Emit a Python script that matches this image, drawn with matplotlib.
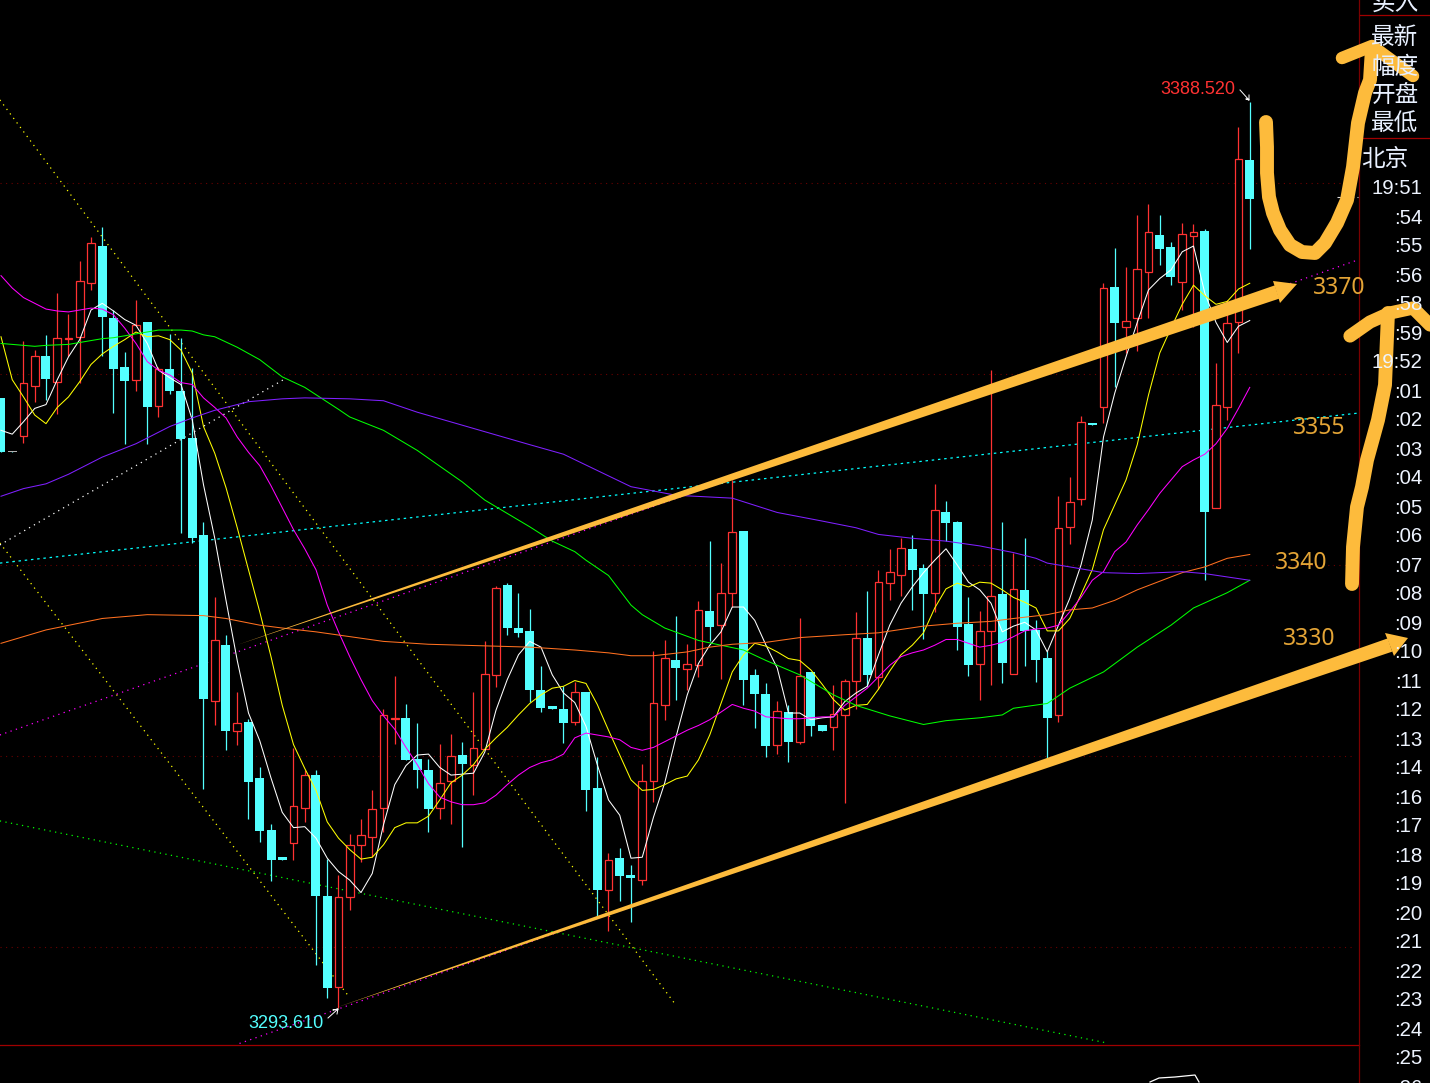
import matplotlib
matplotlib.use('Agg')
import matplotlib.pyplot as plt
import numpy as np
from matplotlib.patches import Polygon

# candles
opens = [3357.5,3351.9,3353.5,3358.7,3361.9,3359.2,3363.7,3363.9,3369.5,3373.4,3365.9,3360.7,3359.4,3365.4,3356.6,3360.5,
         3358.2,3353.3,3343.1,3325.8,3331.6,3322.6,3323.6,3317.7,3312.3,3309.4,3310.9,3314.6,3318.0,3305.3,3295.8,3305.2,
         3310.7,3311.5,3314.6,3323.9,3324.0,3319.7,3318.5,3314.6,3317.4,3320.1,3319.1,3320.7,3328.5,3337.9,3333.4,3333.1,
         3326.9,3325.2,3324.9,3323.6,3326.7,3316.6,3306.0,3309.3,3307.5,3307.0,3317.4,3325.3,3330.1,3329.1,3329.5,3335.2,
         3333.7,3337.1,3343.6,3328.5,3326.5,3321.2,3324.6,3321.5,3328.8,3323.2,3323.0,3324.3,3327.9,3332.4,3328.3,3338.1,
         3339.0,3341.7,3339.7,3337.1,3345.5,3344.5,3333.8,3329.6,3333.1,3337.0,3328.6,3337.4,3333.2,3330.3,3324.3,3344.0,
         3346.9,3354.9,3356.5,3369.1,3364.9,3365.9,3370.7,3374.6,3373.3,3369.6,3374.5,3375.0,3346.0,3356.5,3365.4,3382.4]
closes = [3351.8,3351.8,3359.1,3361.9,3359.5,3363.8,3363.8,3369.7,3373.7,3366.0,3360.5,3359.3,3365.1,3356.5,3360.5,3358.2,
          3353.2,3342.8,3326.0,3332.1,3322.6,3323.5,3317.3,3312.1,3309.1,3309.1,3314.8,3318.0,3305.3,3295.7,3305.2,3310.7,
          3311.7,3314.4,3324.3,3324.0,3319.6,3318.5,3314.4,3317.2,3320.0,3319.2,3320.8,3328.6,3337.6,3333.4,3332.9,3326.9,
          3325.0,3324.9,3323.5,3326.7,3316.4,3306.0,3309.1,3307.4,3307.2,3317.4,3325.5,3330.3,3329.2,3329.6,3335.3,3333.5,
          3337.1,3343.5,3328.0,3326.5,3321.0,3324.7,3321.5,3328.4,3323.1,3322.6,3324.4,3327.9,3332.4,3328.5,3338.2,3339.3,
          3341.8,3339.5,3337.0,3345.8,3344.4,3333.5,3329.5,3333.1,3336.8,3329.7,3337.5,3333.1,3330.1,3324.0,3343.9,3346.6,
          3355.0,3354.7,3369.0,3365.3,3365.6,3371.0,3374.9,3373.1,3370.2,3374.7,3374.9,3345.5,3356.8,3365.3,3382.5,3378.3]
highs = [3357.5,3351.9,3363.5,3362.5,3364.1,3368.5,3366.3,3371.8,3374.3,3375.4,3366.7,3362.3,3367.8,3365.4,3360.7,3364.2,
         3363.8,3360.6,3344.5,3336.6,3332.7,3326.7,3323.9,3318.8,3312.9,3309.4,3320.8,3318.5,3318.5,3309.2,3307.5,3311.8,
         3313.4,3316.4,3324.9,3328.4,3325.4,3323.5,3319.7,3321.3,3322.3,3321.5,3326.7,3332.0,3337.8,3338.1,3337.1,3335.4,
         3329.4,3325.2,3327.3,3327.7,3326.7,3319.9,3309.8,3310.4,3308.6,3319.2,3331.0,3332.1,3334.7,3331.7,3336.2,3342.5,
         3340.2,3348.9,3343.6,3329.1,3327.6,3325.8,3325.3,3334.5,3328.8,3323.2,3327.4,3328.1,3335.1,3337.3,3339.5,3341.7,
         3342.8,3343.1,3340.1,3348.5,3346.7,3344.6,3336.6,3335.2,3360.4,3344.5,3341.3,3342.8,3334.2,3331.0,3347.2,3349.2,
         3355.6,3354.9,3369.5,3373.2,3371.2,3376.7,3377.8,3376.6,3373.8,3375.8,3375.7,3375.2,3361.2,3367.8,3385.9,3388.52]
lows = [3351.8,3351.8,3352.8,3357.1,3357.3,3355.8,3361.9,3359.1,3368.8,3361.9,3355.9,3352.7,3358.2,3352.7,3355.5,3357.9,
        3343.4,3342.3,3316.5,3323.2,3320.6,3321.2,3313.4,3311.0,3306.9,3309.1,3309.1,3313.1,3298.1,3294.7,3293.61,3303.9,
        3308.9,3309.4,3312.0,3321.3,3319.6,3316.6,3312.0,3313.4,3312.9,3310.5,3315.9,3320.7,3327.2,3332.7,3332.5,3325.7,
        3324.6,3324.9,3321.4,3323.2,3314.2,3303.0,3301.7,3304.8,3302.6,3306.5,3315.2,3323.8,3325.9,3326.9,3328.3,3332.0,
        3328.1,3335.6,3325.3,3322.9,3319.9,3320.2,3319.4,3321.3,3322.1,3322.6,3320.6,3315.1,3324.9,3327.3,3327.0,3336.3,
        3336.8,3335.3,3332.2,3335.1,3342.5,3331.1,3328.4,3325.9,3327.4,3327.6,3328.6,3329.4,3327.7,3319.6,3323.6,3342.2,
        3346.3,3354.7,3354.9,3358.6,3362.2,3362.4,3365.9,3371.4,3369.3,3366.7,3364.9,3338.4,3346.0,3355.2,3362.2,3373.1]
grey_candles = [1]

# moving averages, one value per candle
ma_white = [3354.1,3353.7,3355.0,3356.4,3356.8,3359.4,3361.8,3363.6,3366.7,3367.4,3366.6,3365.7,3365.1,3363.2,3360.4,3359.6,
            3358.9,3355.2,3348.4,3342.8,3336.3,3330.0,3324.5,3321.6,3317.7,3314.1,3312.5,3312.6,3311.4,3309.3,3307.9,3307.0,
            3305.7,3307.7,3312.8,3317.0,3319.0,3320.1,3320.2,3318.8,3318.0,3318.1,3318.2,3320.4,3324.8,3328.0,3330.6,3332.0,
            3331.4,3328.5,3326.6,3325.6,3323.1,3319.1,3315.4,3313.8,3309.3,3309.4,3313.6,3317.2,3322.0,3326.4,3329.7,3331.6,
            3333.0,3335.6,3335.6,3334.2,3331.6,3329.2,3324.5,3324.5,3323.8,3324.0,3324.1,3325.7,3326.6,3327.3,3330.6,3333.7,
            3336.0,3337.7,3339.2,3340.5,3341.7,3340.0,3338.2,3337.4,3336.0,3333.0,3333.6,3334.0,3333.2,3330.9,3333.7,3336.5,
            3340.0,3344.7,3353.4,3358.0,3361.8,3365.4,3368.8,3370.0,3370.9,3372.8,3373.4,3368.5,3365.4,3363.3,3365.0,3365.6]
ma_yellow = [3363.9,3359.4,3357.6,3355.7,3354.8,3356.5,3357.6,3359.2,3361.0,3362.1,3362.9,3363.6,3364.4,3363.9,3364.0,3363.6,
             3362.5,3360.1,3354.5,3351.7,3348.1,3343.9,3339.5,3335.1,3330.4,3325.3,3321.2,3318.7,3316.4,3313.1,3311.4,3310.2,
             3309.2,3309.4,3310.7,3312.5,3313.0,3313.0,3313.7,3315.4,3317.2,3318.0,3319.1,3320.7,3321.9,3323.0,3324.3,3325.5,
             3326.4,3327.1,3327.3,3327.9,3327.6,3325.4,3322.7,3320.1,3317.5,3316.4,3316.5,3317.0,3317.6,3317.9,3319.6,3322.2,
             3325.5,3328.8,3330.6,3331.8,3331.5,3330.9,3330.2,3330.0,3329.0,3327.5,3325.9,3324.8,3325.3,3325.4,3327.0,3328.9,
             3330.6,3331.6,3332.9,3335.5,3337.5,3338.1,3337.7,3338.2,3338.1,3337.4,3336.6,3336.1,3335.5,3333.1,3333.1,3334.4,
             3336.9,3339.5,3343.7,3346.3,3348.9,3352.6,3357.8,3362.2,3364.8,3367.3,3369.3,3368.2,3367.3,3367.6,3368.9,3369.5]
ma_magenta = [3370.3,3369.0,3368.0,3367.4,3366.8,3366.6,3366.5,3366.7,3366.9,3366.8,3366.2,3364.8,3363.2,3361.3,3360.4,3359.9,
              3359.1,3358.9,3357.5,3356.5,3355.4,3353.4,3351.8,3350.4,3348.3,3346.0,3343.7,3341.7,3339.5,3335.8,3333.0,3330.4,
              3328.0,3325.8,3324.2,3322.8,3320.9,3319.1,3317.1,3315.7,3315.2,3314.9,3314.9,3315.1,3315.9,3317.0,3318.0,3318.8,
              3319.3,3319.6,3320.2,3321.9,3322.4,3322.2,3322.0,3321.7,3320.9,3320.6,3320.9,3321.5,3322.1,3322.7,3323.2,3323.8,
              3324.6,3325.4,3325.0,3324.7,3324.1,3324.0,3323.9,3323.9,3324.0,3324.1,3324.1,3325.3,3326.2,3327.1,3328.3,3329.5,
              3330.4,3330.8,3331.1,3331.6,3332.2,3332.2,3331.8,3331.4,3331.6,3331.9,3332.5,3333.1,3333.3,3333.4,3333.7,3335.1,
              3336.6,3338.4,3339.3,3341.4,3342.4,3344.2,3345.8,3347.5,3348.9,3350.3,3351.0,3351.6,3352.7,3354.3,3356.4,3358.6]

# slower averages, read at a few candles only
green_idx = [0,1,3,4,6,7,9,10,12,14,16,17,18,19,21,23,25,27,30,31,34,37,41,43,47,49,51,52,54,56,57,59,62,64,66,68,71,74,76,
             79,82,84,87,89,90,93,95,98,101,104,106,109,111]
green_vals = [3363.2,3363.1,3362.9,3363.0,3363.1,3363.3,3363.7,3363.8,3364.2,3364.6,3364.6,3364.5,3364.1,3363.9,3362.8,3361.5,
              3359.7,3358.6,3356.3,3355.5,3354.1,3352.0,3348.7,3346.8,3344.0,3342.5,3341.4,3340.5,3338.9,3335.8,3334.8,3333.4,
              3332.1,3331.6,3331.1,3330.0,3328.5,3326.4,3325.3,3324.2,3323.3,3323.7,3324.0,3324.3,3325.0,3325.5,3327.1,3328.8,
              3331.4,3333.7,3335.5,3337.1,3338.4]
orange_idx = [0,4,9,13,18,20,23,25,28,31,34,38,41,47,51,54,56,58,61,63,65,68,71,75,78,82,85,88,90,93,95,97,99,101,103,105,107,109,111]
orange_vals = [3331.8,3333.2,3334.4,3334.8,3334.7,3334.4,3333.7,3333.4,3333.0,3332.5,3332.0,3331.7,3331.6,3331.4,3331.1,3330.8,
               3330.5,3330.5,3330.9,3331.4,3331.7,3331.9,3332.4,3332.7,3332.9,3333.6,3333.9,3334.1,3334.4,3334.8,3335.3,3335.5,
               3336.3,3337.4,3338.3,3339.2,3339.8,3340.7,3341.1]
purple_idx = [0,2,4,6,9,12,15,17,19,22,25,27,31,34,37,42,47,50,56,60,65,69,73,76,78,81,84,87,90,92,93,96,98,101,105,107,111]
purple_vals = [3347.2,3348.0,3348.5,3349.5,3351.3,3352.7,3354.5,3355.4,3356.2,3357.1,3357.4,3357.5,3357.4,3357.2,3356.0,3354.3,
               3352.6,3351.6,3348.2,3347.3,3347.0,3345.5,3344.6,3343.9,3343.2,3342.8,3342.5,3342.0,3341.3,3340.7,3340.2,3339.6,
               3339.2,3339.1,3339.3,3339.1,3338.4]

# dotted lines drawn on the chart: index, price at both ends
trend_lines = [
    ('#ffff00', (-0.1, 60.0), (3388.7, 3293.9)),
    ('#ffff00', (-0.1, 30.8), (3342.3, 3295.0)),
    ('#ffffff', (-0.1, 25.1), (3342.1, 3359.4)),
    ('#00ffff', (-0.1, 120.6), (3340.2, 3355.9)),
    ('#ff00ff', (-0.1, 120.5), (3322.2, 3371.9)),
    ('#ff00ff', (21.2, 115.5), (3289.9, 3328.7)),
    ('#00ff00', (-0.1, 98.1), (3313.2, 3290.0)),
]
grid_prices = [3300, 3320, 3340, 3360, 3380]
base_price = 3289.7

time_labels = ['19:51',':54',':55',':56',':58',':59','19:52',':01',':02',':03',':04',':05',':06',':07',':08',':09',':10',
               ':11',':12',':13',':14',':16',':17',':18',':19',':20',':21',':22',':23',':24',':25',':26']
side_labels = ['买入', '最新', '幅度', '开盘', '最低']

RED = '#ff3232'
CYAN = '#54ffff'
INK = '#fdbb3c'

fig = plt.figure(figsize=(14.3, 10.83), dpi=100, facecolor='black')
ax = fig.add_axes([0, 0, 1, 1], facecolor='black')
ax.set_xlim(-1 / 11.25, 1429 / 11.25)
ax.set_ylim(3300 - 136 / 9.55, 3300 + 947 / 9.55)
ax.axis('off')

idx = np.arange(len(opens))
o, c, h, l = map(np.array, (opens, closes, highs, lows))
rising = c > o

for p in grid_prices:
    ax.plot([-0.1, 120.4], [p, p], color='#6a0000', lw=0.8, ls=(0, (1, 4)), zorder=1)
ax.plot([-0.1, 120.7], [base_price, base_price], color='#a00000', lw=0.9, zorder=1)
ax.plot([120.7, 120.7], ax.get_ylim(), color='#7a0000', lw=0.9, zorder=1)

for color, xs, ys in trend_lines:
    style = (0, (2, 3)) if color == '#00ffff' else (0, (1, 3.5))
    ax.plot(xs, ys, color=color, lw=0.9, ls=style, zorder=2)

colors = [RED if r else CYAN for r in rising]
ax.vlines(idx, l, h, colors=colors, lw=0.9, zorder=2.5)

tops = np.maximum(o, c)
bots = np.minimum(o, c)
for i in idx:
    height = max(tops[i] - bots[i], 0.12)
    if i in grey_candles:
        ax.bar(i, 0.1, bottom=bots[i], width=0.8, color='#b0b0b0', zorder=3)
    elif rising[i]:
        ax.bar(i, height, bottom=bots[i], width=0.7, facecolor='black', edgecolor=RED, lw=0.9, zorder=3)
    else:
        ax.bar(i, height, bottom=bots[i], width=0.8, color=CYAN, lw=0, zorder=3)

ax.plot(idx, ma_white, color='#ffffff', lw=0.75, zorder=4)
ax.plot(idx, ma_yellow, color='#ffff00', lw=0.75, zorder=4)
ax.plot(idx, ma_magenta, color='#ff00ff', lw=0.75, zorder=4)
ax.plot(green_idx, green_vals, color='#00ff00', lw=0.75, zorder=4)
ax.plot(orange_idx, orange_vals, color='#ff7020', lw=0.75, zorder=4)
ax.plot(purple_idx, purple_vals, color='#7f20ff', lw=0.75, zorder=4)

# overlay in screen pixels: side panel, price tags and the hand drawn marks
ink = fig.add_axes([0, 0, 1, 1], facecolor='none')
ink.set_xlim(0, 1430)
ink.set_ylim(1083, 0)
ink.axis('off')

cjk = ['Noto Sans CJK SC', 'DejaVu Sans']
for y, s in zip([3, 38, 67, 95, 124], side_labels):
    ink.text(1395, y, s, color='#e8f0ff', fontsize=17, family=cjk, ha='center', va='center')
ink.text(1385, 160, '北京', color='#e8f0ff', fontsize=17, family=cjk, ha='center', va='center')
ink.plot([1360, 1430], [15, 15], color='#a00000', lw=0.9)
ink.plot([1360, 1430], [138, 138], color='#a00000', lw=0.9)
for k, s in enumerate(time_labels):
    ink.text(1422, 189 + 29 * k, s, color='#eef4ff', fontsize=14.7, family='Liberation Sans', ha='right', va='center')
ink.plot([1337, 1358], [197, 197], color='#dddddd', lw=0.8, ls=(0, (3, 3)))

ink.text(1160, 90, '3388.520', color=RED, fontsize=13, family='Liberation Sans', va='center')
ink.plot([1240, 1249, 1246, 1249, 1249], [90, 100, 99, 100, 95], color='white', lw=0.7)
ink.text(248, 1024, '3293.610', color=CYAN, fontsize=13, family='Liberation Sans', va='center')
ink.plot([328, 338, 333, 338, 337], [1018, 1009, 1010, 1009, 1014], color='white', lw=0.7)
ink.plot([1150, 1159, 1175, 1195, 1199], [1082, 1078, 1077, 1075, 1082], color='white', lw=0.9)

for s, x, y in [('3370', 1339, 288), ('3355', 1319, 428), ('3340', 1301, 563), ('3330', 1309, 639)]:
    ink.text(x, y, s, color='#e3a436', fontsize=16.5, family='Noto Sans', ha='center', va='center')


def brush(xs, ys, width=10):
    ink.plot(xs, ys, color=INK, lw=width, solid_capstyle='round', solid_joinstyle='round')


def taper_arrow(tail, neck, tip, head_a, head_b, width):
    tail, neck = np.array(tail, float), np.array(neck, float)
    d = (neck - tail) / np.hypot(*(neck - tail))
    n = np.array([-d[1], d[0]]) * width / 2
    ink.add_patch(Polygon([tail, neck + n, neck - n], closed=True, fc=INK, ec='none'))
    ink.add_patch(Polygon([tip, head_a, head_b], closed=True, fc=INK, ec='none'))


taper_arrow((237, 645), (1277, 292), (1297, 284), (1273, 281), (1280, 303), 14)
taper_arrow((335, 1008), (1390, 645), (1408, 638), (1385, 633), (1394, 656), 14)

# big U going up to the top corner
brush([1266, 1267, 1267, 1269, 1273, 1280, 1290, 1302, 1315, 1325, 1337, 1347, 1353, 1358, 1365, 1370, 1372],
      [122, 147, 173, 197, 213, 230, 245, 252, 253, 243, 223, 200, 167, 123, 93, 80, 48])
brush([1342, 1372, 1413], [58, 46, 76], 9)
# tall stroke on the right
brush([1352, 1353, 1357, 1362, 1367, 1378, 1385, 1388], [584, 547, 507, 487, 460, 420, 385, 313])
brush([1350, 1370, 1390, 1413, 1430], [336, 322, 313, 308, 325], 9.5)

fig.savefig('out.png', dpi=100, facecolor='black')
